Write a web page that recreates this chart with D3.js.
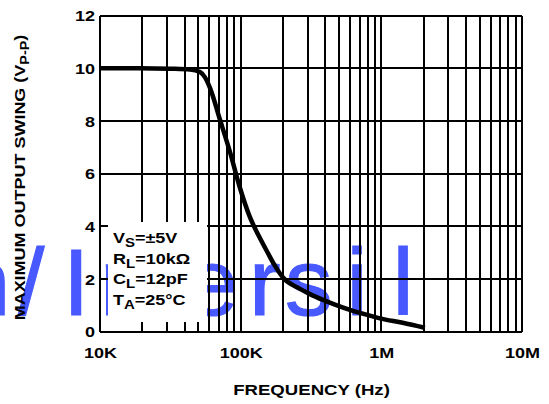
<!DOCTYPE html>
<html><head><meta charset="utf-8">
<script src="https://cdn.jsdelivr.net/npm/d3@7"></script>
<style>body{margin:0;background:#fff} svg{display:block}</style>
</head><body><svg id="c" width="549" height="404"></svg>
<script>
const freqHz = [10000, 19200, 31500, 43600, 51400, 55800, 60500, 71300, 83900, 98900, 116000, 137000, 154000, 175000, 200000, 264000, 311000, 385000, 468000, 598000, 830000, 978000, 1420000, 2040000];
const swingVpp = [10.0, 10.0, 9.98, 9.95, 9.85, 9.65, 9.25, 8.04, 6.82, 5.45, 4.36, 3.55, 3.04, 2.5, 2.05, 1.62, 1.42, 1.2, 1.02, 0.82, 0.6, 0.5, 0.33, 0.14];
const xTickValues = [1e4, 1e5, 1e6, 1e7];
const xTickLabels = ["10K", "100K", "1M", "10M"];
const yTickValues = [0, 2, 4, 6, 8, 10, 12];
const condMain = ["V", "R", "C", "T"];
const condSub = ["S", "L", "L", "A"];
const condRest = ["=±5V", "=10kΩ", "=12pF", "=25°C"];
const watermarkChars = ["n", "/", "I", "n", "t", "e", "r", "s", "i", "l"];
const watermarkX = [-42.5, 18, 63, 100, 156, 185.5, 249, 285, 346.6, 392.6];

const FONT = '"Liberation Sans", Arial, sans-serif';
const svg = d3.select("#c").attr("font-family", FONT);
svg.append("rect").attr("width", 549).attr("height", 404).attr("fill", "#fff");

const x = d3.scaleLog().domain([1e4, 1e7]).range([100, 522]);
const y = d3.scaleLinear().domain([0, 12]).range([331.5, 15.5]);

// watermark
svg.append("text")
  .attr("x", watermarkX.join(" "))
  .attr("y", 315)
  .attr("font-size", 95)
  .attr("fill", "#4859ff")
  .attr("stroke", "#4859ff")
  .attr("stroke-width", 1.2)
  .text(watermarkChars.join(""));

// grid
const vGrid = [];
for (let k = 4; k < 7; k++) for (let i = 1; i < 10; i++) vGrid.push(i * Math.pow(10, k));
vGrid.push(1e7);
const grid = svg.append("g").attr("stroke", "#000").attr("stroke-width", 2).attr("shape-rendering", "crispEdges");
grid.selectAll("line.v").data(vGrid).join("line").attr("class", "v")
  .attr("x1", d => x(d)).attr("x2", d => x(d)).attr("y1", y(0)).attr("y2", y(12));
grid.selectAll("line.h").data(yTickValues).join("line").attr("class", "h")
  .attr("x1", x(1e4)).attr("x2", x(1e7)).attr("y1", d => y(d)).attr("y2", d => y(d));

// curve
const line = d3.line().x((d, i) => x(freqHz[i])).y(d => y(d)).curve(d3.curveMonotoneX);
svg.append("path").datum(swingVpp).attr("d", line)
  .attr("fill", "none").attr("stroke", "#000").attr("stroke-width", 4.5).attr("stroke-linejoin", "round");

// conditions box
svg.append("rect").attr("x", 108).attr("y", 222).attr("width", 99).attr("height", 100).attr("fill", "#fff");
const baselines = [243, 263.5, 284, 304.5];
condMain.forEach((m, i) => {
  const t = svg.append("g").attr("transform", `translate(113,${baselines[i]}) scale(1.2,1)`)
    .append("text").attr("font-size", 15).attr("font-weight", "bold").attr("fill", "#000");
  t.append("tspan").text(m);
  t.append("tspan").attr("font-size", 12.5).attr("dy", 4).text(condSub[i]);
  t.append("tspan").attr("dy", -4).text(condRest[i]);
});

// axes labels
const xAxis = svg.append("g").attr("transform", `translate(0,${y(0)})`)
  .call(d3.axisBottom(x).tickValues(xTickValues).tickFormat((d, i) => xTickLabels[i]).tickSize(0));
xAxis.attr("font-family", FONT).attr("font-size", 15);
xAxis.select(".domain").remove();
xAxis.selectAll("text").attr("y", 26.5).attr("dy", 0).attr("transform", "scale(1.2,1)")
  .attr("font-weight", "bold").attr("fill", "#000");

const yAxis = svg.append("g").attr("transform", `translate(${x(1e4)},0)`)
  .call(d3.axisLeft(y).tickValues(yTickValues).tickFormat(d3.format("d")).tickSize(0));
yAxis.attr("font-family", FONT).attr("font-size", 15);
yAxis.select(".domain").remove();
yAxis.selectAll("text").attr("x", -4.2).attr("dy", "0.36em").attr("transform", "scale(1.2,1)")
  .attr("font-weight", "bold").attr("fill", "#000");

// titles
svg.append("g").attr("transform", "translate(311.5,395) scale(1.2,1)")
  .append("text").attr("text-anchor", "middle").attr("font-size", 15.5).attr("font-weight", "bold")
  .text("FREQUENCY (Hz)");

const yt = svg.append("g").attr("transform", "translate(25,177.5) rotate(-90) scale(1.2,1)")
  .append("text").attr("text-anchor", "middle").attr("font-size", 15).attr("font-weight", "bold");
yt.append("tspan").text("MAXIMUM OUTPUT SWING (V");
yt.append("tspan").attr("font-size", 12).attr("dy", 3.5).text("P-P");
yt.append("tspan").attr("dy", -3.5).text(")");
</script></body></html>
